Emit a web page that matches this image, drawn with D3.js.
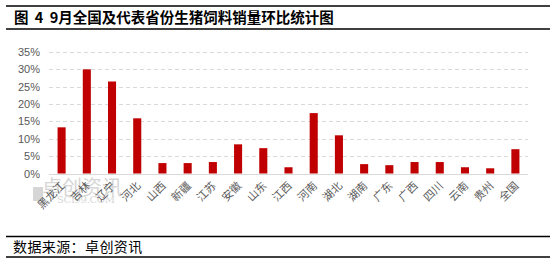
<!DOCTYPE html>
<html>
<head>
<meta charset="utf-8">
<script src="https://cdn.jsdelivr.net/npm/d3@7"></script>
<style>
  body { margin: 0; background: #fff; }
  svg { display: block; }
</style>
</head>
<body>
<div id="chart"></div>
<script>
// data
const provinces = ["黑龙江", "吉林", "辽宁", "河北", "山西", "新疆", "江苏", "安徽", "山东", "江西",
                   "河南", "湖北", "湖南", "广东", "广西", "四川", "云南", "贵州", "全国"];
const momChange = [13.3, 30.0, 26.5, 15.9, 3.0, 3.0, 3.3, 8.4, 7.3, 1.8,
                   17.4, 11.0, 2.7, 2.4, 3.3, 3.3, 1.8, 1.5, 7.0];
const yTicks = [0, 5, 10, 15, 20, 25, 30, 35];

const titleText = "图 4 9月全国及代表省份生猪饲料销量环比统计图";
const sourceText = "数据来源：卓创资讯";

function main() {
    let width = 556;
    let height = 265;
    let cjk = "'Noto Sans CJK SC', sans-serif";

    let svg = d3.select("#chart")
        .append("svg")
        .attr("width", width)
        .attr("height", height);

    // title block with rules above and below
    svg.append("line").attr("x1", 6).attr("x2", 550).attr("y1", 6).attr("y2", 6)
        .attr("stroke", "#000").attr("stroke-width", 1.3);
    svg.append("line").attr("x1", 6).attr("x2", 550).attr("y1", 29).attr("y2", 29)
        .attr("stroke", "#000").attr("stroke-width", 1.3);
    svg.append("text")
        .attr("x", 14).attr("y", 23)
        .attr("font-family", cjk)
        .attr("font-weight", "bold")
        .attr("font-size", "14.5px")
        .attr("word-spacing", "3px")
        .attr("fill", "#000")
        .text(titleText);

    // source block
    svg.append("line").attr("x1", 6).attr("x2", 550).attr("y1", 236.5).attr("y2", 236.5)
        .attr("stroke", "#000").attr("stroke-width", 1.3);
    svg.append("line").attr("x1", 6).attr("x2", 550).attr("y1", 257).attr("y2", 257)
        .attr("stroke", "#000").attr("stroke-width", 1.3);
    svg.append("text")
        .attr("x", 13).attr("y", 252)
        .attr("font-family", cjk)
        .attr("font-size", "14px")
        .attr("letter-spacing", "0.4px")
        .attr("fill", "#000")
        .text(sourceText);

    // plot area
    let x = d3.scaleBand()
        .domain(provinces)
        .range([49, 528])
        .paddingInner(0.68)
        .paddingOuter(0.34);

    let y = d3.scaleLinear()
        .domain([0, 35])
        .range([173.5, 52]);

    // watermark
    let wm = svg.append("g").attr("fill", "#d6d6d6");
    wm.append("rect").attr("x", 33).attr("y", 187).attr("width", 10).attr("height", 14);
    wm.append("text").attr("x", 42).attr("y", 195)
        .attr("font-family", cjk).attr("font-size", "20px")
        .text("卓创资讯");
    wm.append("text").attr("x", 57).attr("y", 203)
        .attr("font-family", "'DejaVu Serif', serif").attr("font-size", "10px")
        .attr("textLength", 58)
        .text("SCI99.COM");

    // gridlines
    svg.append("g")
        .selectAll("line")
        .data(yTicks.filter(d => d > 0))
        .enter()
        .append("line")
            .attr("x1", 49).attr("x2", 528)
            .attr("y1", d => Math.round(y(d)) + 0.5)
            .attr("y2", d => Math.round(y(d)) + 0.5)
            .attr("stroke", "#d9d9d9")
            .attr("stroke-dasharray", "4,3");

    // y axis labels
    let yAxis = svg.append("g")
        .attr("transform", "translate(40,0)")
        .call(d3.axisLeft(y).tickValues(yTicks).tickSize(0).tickPadding(0).tickFormat(d => d + "%"));
    yAxis.select(".domain").remove();
    yAxis.selectAll("text")
        .attr("font-family", "'Liberation Sans', Arial, sans-serif")
        .attr("font-size", "11px")
        .attr("fill", "#595959");

    // bars
    svg.append("g")
        .selectAll("rect")
        .data(provinces)
        .enter()
        .append("rect")
            .attr("x", d => x(d))
            .attr("y", (d, i) => y(momChange[i]))
            .attr("width", x.bandwidth())
            .attr("height", (d, i) => y(0) - y(momChange[i]))
            .attr("fill", "#c00000");

    // x axis
    let xAxis = svg.append("g")
        .attr("transform", "translate(0," + (Math.round(y(0)) + 0.5) + ")")
        .call(d3.axisBottom(x).tickSize(0).tickPadding(0));
    xAxis.select(".domain")
        .attr("stroke", "#d9d9d9")
        .attr("d", "M49,0H528");
    xAxis.selectAll(".tick text")
        .attr("font-family", cjk)
        .attr("font-size", "11px")
        .attr("fill", "#595959")
        .attr("text-anchor", "end")
        .attr("dy", "0")
        .attr("transform", "translate(4,12) rotate(-45)");
}

window.onload = () => {
    main();
}
</script>
</body>
</html>
